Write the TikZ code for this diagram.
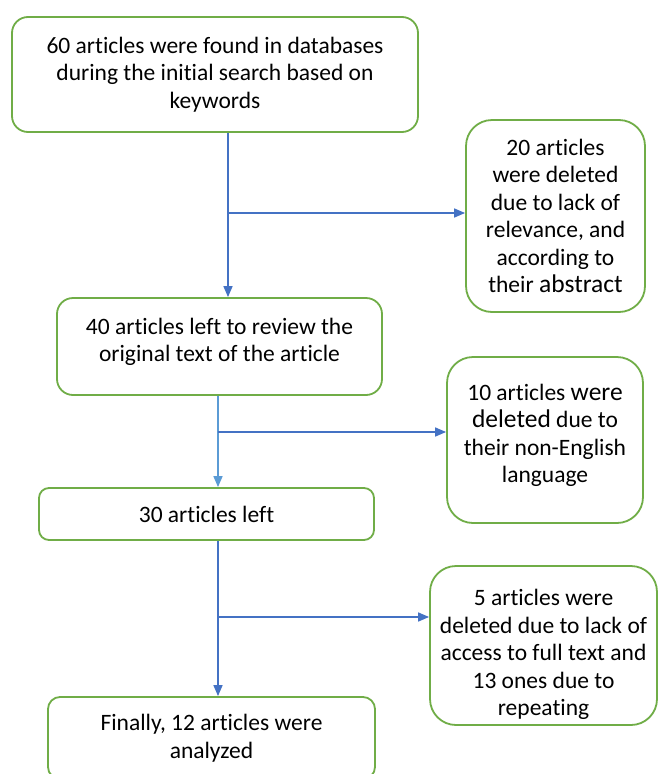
\documentclass[tikz,border=0pt]{standalone}
\usepackage{fontspec}
\setmainfont{Carlito}[Ligatures=NoCommon]
\usetikzlibrary{arrows.meta,positioning}
\definecolor{boxgreen}{RGB}{112,173,71}
\definecolor{flowblue}{RGB}{68,114,196}
\definecolor{lightflow}{RGB}{91,155,213}
\newcommand{\bigw}[1]{{\fontsize{25.5}{27.5}\selectfont #1}}

\begin{document}
\begin{tikzpicture}
  [
  x=1pt,y=-1pt,
  stage/.style={rectangle,rounded corners=16pt,draw=boxgreen,line width=1.8pt,fill=white,
    align=center,inner sep=0pt,font=\fontsize{23.5}{27.5}\selectfont},
  removed/.style={stage,rounded corners=26pt},
  flow/.style={->,>={Triangle[length=11pt,width=9pt]},draw=flowblue,line width=1.6pt}
  ]
  \clip (0,0) rectangle (658,774);
  \node[stage,minimum width=406pt,minimum height=115pt] (found) at (215,74.5)
    {60 articles were found in databases\\during the initial search based on\\keywords};
  \node[removed,minimum width=179pt,minimum height=192pt] (relevance) at (555.5,216)
    {20 articles\\were deleted\\due to lack of\\relevance, and\\according to\\their \bigw{abstract}};
  \node[stage,minimum width=325pt,minimum height=97pt] (left40) at (219.5,346.5)
    {40 articles left to review the\\original text of the article\\[-14pt]};
  \node[removed,minimum width=196pt,minimum height=166pt] (language) at (545,440)
    {10 articles \bigw{were}\\\bigw{deleted} due to\\their non-English\\language\\[-14pt]};
  \node[stage,rounded corners=10pt,minimum width=335pt,minimum height=52pt] (left30) at (206.5,514)
    {30 articles left};
  \node[removed,minimum width=227pt,minimum height=159pt] (access) at (543.5,645.5)
    {5 articles were\\deleted due to lack of\\access to full text and\\13 ones due to\\repeating\\[-41.5pt]};
  \node[stage,rounded corners=12pt,minimum width=327pt,minimum height=82pt] (final) at (211.5,738)
    {Finally, 12 articles were\\analyzed};

  \coordinate (j1) at (228,213);
  \coordinate (j2) at (218,432);
  \coordinate (j3) at (218,617);

  \draw[flow] (found.south -| j1) -- (left40.north -| j1);
  \draw[flow] (j1) -- (j1 -| relevance.west);
  \draw[flow,draw=lightflow] (left40.south -| j2) -- (left30.north -| j2);
  \draw[flow] (j2) -- (j2 -| language.west);
  \draw[flow] (left30.south -| j3) -- (final.north -| j3);
  \draw[flow] (j3) -- (j3 -| access.west);
\end{tikzpicture}
\end{document}
